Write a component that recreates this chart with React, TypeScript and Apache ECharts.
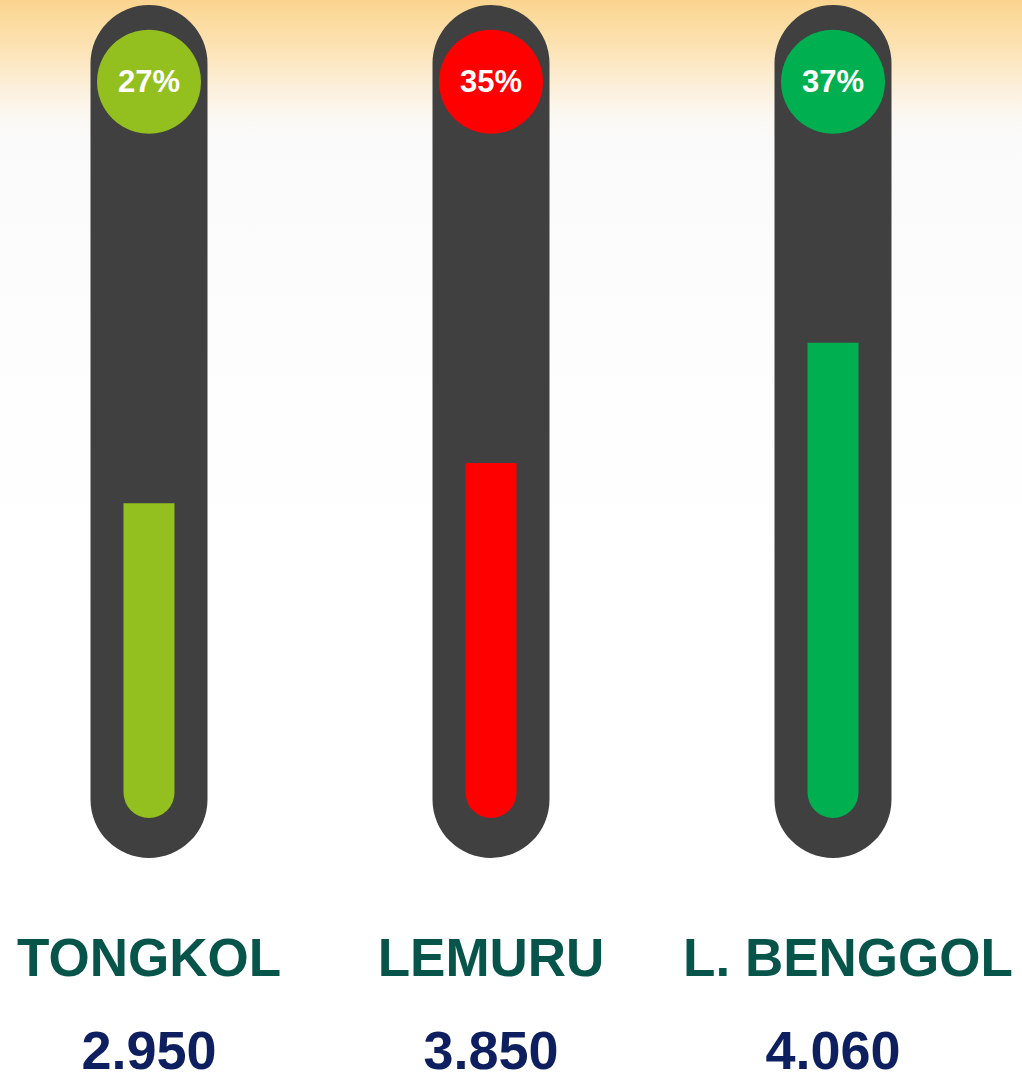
import React, { useEffect, useRef } from "react";
import * as echarts from "echarts";

const categories = ["TONGKOL", "LEMURU", "L. BENGGOL"];
const totals = [2950, 3850, 4060];
const percents = [27, 35, 37];
const fillLevels = [36.9, 41.6, 55.7];
const fillColors = ["#93C01F", "#FF0000", "#00AF50"];
const tubeMax = 100;
const tubeBase = 4.7;
const circleLevel = 91;

const fmt = (n: number) => n.toLocaleString("de-DE", { minimumFractionDigits: 0 });

export default function App() {
  const ref = useRef<HTMLDivElement>(null);
  useEffect(() => {
    if (!ref.current) return;
    const chart = echarts.init(ref.current, null, { renderer: "svg" });
    const font = "'Liberation Sans', Arial, sans-serif";
    const nameStyle = { fontFamily: font, fontWeight: "bold", fontSize: 53, color: "#06544A", lineHeight: 140 };
    chart.setOption({
      animation: false,
      grid: { left: -22, right: 18, top: 5, bottom: 223, containLabel: false, outerBoundsMode: "none" },
      xAxis: [
        {
          type: "category",
          data: categories,
          axisLine: { show: false },
          axisTick: { show: false },
          splitLine: { show: false },
          axisLabel: {
            interval: 0,
            margin: 29,
            verticalAlign: "top",
            formatter: (v: string, i: number) =>
              `{${i === categories.length - 1 ? "nr" : "n"}|${v}}\n{v|${fmt(totals[i])}}`,
            rich: {
              n: nameStyle,
              nr: { ...nameStyle, padding: [0, 0, 0, 30] },
              v: { fontFamily: font, fontWeight: "bold", fontSize: 54, color: "#0D1F5E", lineHeight: 46 },
            },
          },
        },
        {
          type: "category",
          data: categories,
          show: false,
          position: "bottom",
        },
      ],
      yAxis: { type: "value", min: 0, max: tubeMax, show: false, splitLine: { show: false } },
      series: [
        {
          type: "bar",
          xAxisIndex: 1,
          data: categories.map(() => tubeMax),
          barWidth: 117,
          itemStyle: { color: "#404040", borderRadius: 58.5 },
          silent: true,
        },
        {
          type: "bar",
          xAxisIndex: 0,
          stack: "fill",
          data: categories.map(() => tubeBase),
          barWidth: 51,
          itemStyle: { color: "rgba(0,0,0,0)" },
          silent: true,
        },
        {
          type: "bar",
          xAxisIndex: 0,
          stack: "fill",
          barWidth: 51,
          data: fillLevels.map((v, i) => ({ value: v, itemStyle: { color: fillColors[i] } })),
          itemStyle: { borderRadius: [0, 0, 25.5, 25.5] },
        },
        {
          type: "scatter",
          xAxisIndex: 0,
          symbolSize: 104,
          data: percents.map((p, i) => ({ value: circleLevel, itemStyle: { color: fillColors[i], opacity: 1 } })),
          label: {
            show: true,
            position: "inside",
            formatter: (p: any) => `${percents[p.dataIndex]}%`,
            color: "#FFFFFF",
            fontFamily: font,
            fontWeight: "bold",
            fontSize: 31,
          },
        },
      ],
    });
    return () => chart.dispose();
  }, []);
  return (
    <div
      ref={ref}
      style={{
        position: "fixed",
        left: 0,
        top: 0,
        width: 1022,
        height: 1081,
        background:
          "linear-gradient(180deg, #FBD58F 0px, #FCE2B2 45px, #FCEFD8 85px, #FBF8F2 115px, #FAFAFA 140px, #FDFDFD 350px, #FFFFFF 600px)",
      }}
    />
  );
}
